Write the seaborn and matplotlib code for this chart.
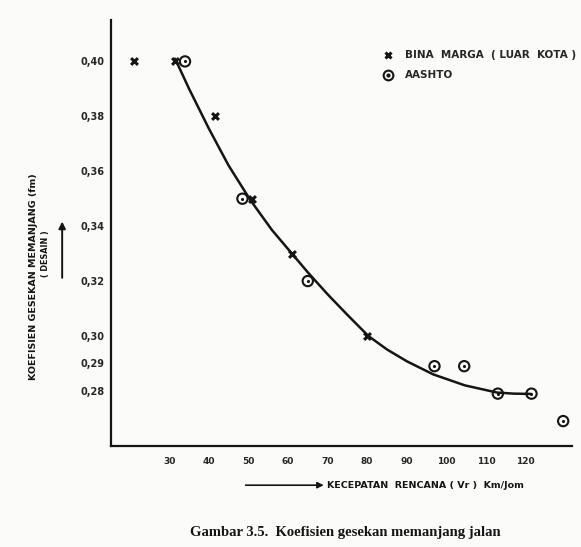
import matplotlib
matplotlib.use("Agg")
import matplotlib.pyplot as plt
from matplotlib.lines import Line2D
import seaborn as sns
import pandas as pd

# ---- data ----
bm_speed = [21, 31.5, 41.5, 51, 61, 80]
bm_fm = [0.40, 0.40, 0.38, 0.35, 0.33, 0.30]

aashto_speed = [34, 48.5, 65, 97, 104.5, 113, 121.5, 129.5]
aashto_fm = [0.40, 0.35, 0.32, 0.289, 0.289, 0.279, 0.279, 0.269]

# hand-drawn fitted curve, read at several speeds
curve_speed = [31.5, 35, 40, 45, 50.5, 56, 61.3, 65, 70, 75, 80.3, 85, 90, 96.7, 104.7, 112.8, 117, 121.4]
curve_fm = [0.4010, 0.3901, 0.3756, 0.3621, 0.3495, 0.3385, 0.3295, 0.3232, 0.3152, 0.3077,
            0.3000, 0.2951, 0.2908, 0.2860, 0.2820, 0.2794, 0.2790, 0.2789]

x_ticks = [30, 40, 50, 60, 70, 80, 90, 100, 110, 120]
y_ticks = [0.28, 0.29, 0.30, 0.32, 0.34, 0.36, 0.38, 0.40]
y_tick_labels = ["0,28", "0,29", "0,30", "0,32", "0,34", "0,36", "0,38", "0,40"]
y_minor = [0.31, 0.33, 0.35, 0.37]

sns.set_style("white")
plt.rcParams["font.family"] = ["DejaVu Sans"]

INK = "#151515"

fig = plt.figure(figsize=(5.81, 5.47), dpi=100, facecolor="#fbfbf9")
ax = fig.add_axes([0.191, 0.185, 0.794, 0.778])
ax.set_facecolor("none")

curve = pd.DataFrame({"v": curve_speed, "fm": curve_fm})
bm = pd.DataFrame({"v": bm_speed, "fm": bm_fm})
aa = pd.DataFrame({"v": aashto_speed, "fm": aashto_fm})

sns.lineplot(data=curve, x="v", y="fm", ax=ax, color=INK, linewidth=1.8, sort=True)
sns.scatterplot(data=bm, x="v", y="fm", ax=ax, marker="x", s=24, color=INK,
                linewidth=2.2, zorder=5)
sns.scatterplot(data=aa, x="v", y="fm", ax=ax, marker="o", s=55, facecolor="none",
                edgecolor=INK, linewidth=1.5, zorder=5)
sns.scatterplot(data=aa, x="v", y="fm", ax=ax, marker="o", s=5, color=INK,
                linewidth=0, zorder=6)

ax.set_xlim(15.3, 131.8)
ax.set_ylim(0.26, 0.415)

for side in ["top", "right"]:
    ax.spines[side].set_visible(False)
for side in ["left", "bottom"]:
    ax.spines[side].set_color(INK)
    ax.spines[side].set_linewidth(1.6)

ax.set_xticks(x_ticks)
ax.set_xticklabels([str(t) for t in x_ticks], fontsize=6.5, fontweight="bold")
ax.set_yticks(y_ticks)
ax.set_yticklabels(y_tick_labels, fontsize=7, fontweight="bold")
ax.set_yticks(y_minor, minor=True)
ax.tick_params(axis="y", which="both", direction="inout", length=7, width=1.2,
               color=INK, pad=1)
ax.tick_params(axis="x", direction="in", length=3, width=1.0, color=INK, pad=8)
ax.set_xlabel("")
ax.set_ylabel("")

# legend
h_bm = Line2D([], [], marker="x", linestyle="none", color=INK, markersize=5, mew=2.2)
h_o = Line2D([], [], marker="o", linestyle="none", markerfacecolor="none",
             markeredgecolor=INK, markersize=7, mew=1.5)
h_dot = Line2D([], [], marker="o", linestyle="none", color=INK, markersize=2)
ax.legend([h_bm, (h_o, h_dot)], ["BINA  MARGA  ( LUAR  KOTA )", "AASHTO"],
          loc="upper left", bbox_to_anchor=(0.643, 0.925),
          bbox_transform=fig.transFigure, frameon=False, handlelength=1.0,
          handletextpad=1.1, labelspacing=0.95,
          prop={"size": 7.5, "weight": "bold"})

# axis labels with arrows
fig.text(0.057, 0.495, "KOEFISIEN GESEKAN MEMANJANG (fm)", rotation=90,
         ha="center", va="center", fontsize=6.8, fontweight="bold", color=INK)
fig.text(0.079, 0.537, "( DESAIN )", rotation=90, ha="center", va="center",
         fontsize=5.8, fontweight="bold", color=INK)
ax.annotate("", xy=(0.107, 0.600), xytext=(0.107, 0.487),
            xycoords="figure fraction", textcoords="figure fraction",
            arrowprops=dict(arrowstyle="-|>", color=INK, lw=1.4, mutation_scale=10),
            annotation_clip=False)

ax.annotate("", xy=(0.562, 0.113), xytext=(0.418, 0.113),
            xycoords="figure fraction", textcoords="figure fraction",
            arrowprops=dict(arrowstyle="-|>", color=INK, lw=1.2, mutation_scale=9),
            annotation_clip=False)
fig.text(0.563, 0.113, "KECEPATAN  RENCANA ( Vr )  Km/Jom", ha="left", va="center",
         fontsize=6.8, fontweight="bold", color=INK)

fig.text(0.594, 0.026, "Gambar 3.5.  Koefisien gesekan memanjang jalan", ha="center",
         va="center", fontsize=10.5, fontweight="bold", family="Liberation Serif",
         color=INK)

fig.savefig("out.png", dpi=100, facecolor=fig.get_facecolor())
